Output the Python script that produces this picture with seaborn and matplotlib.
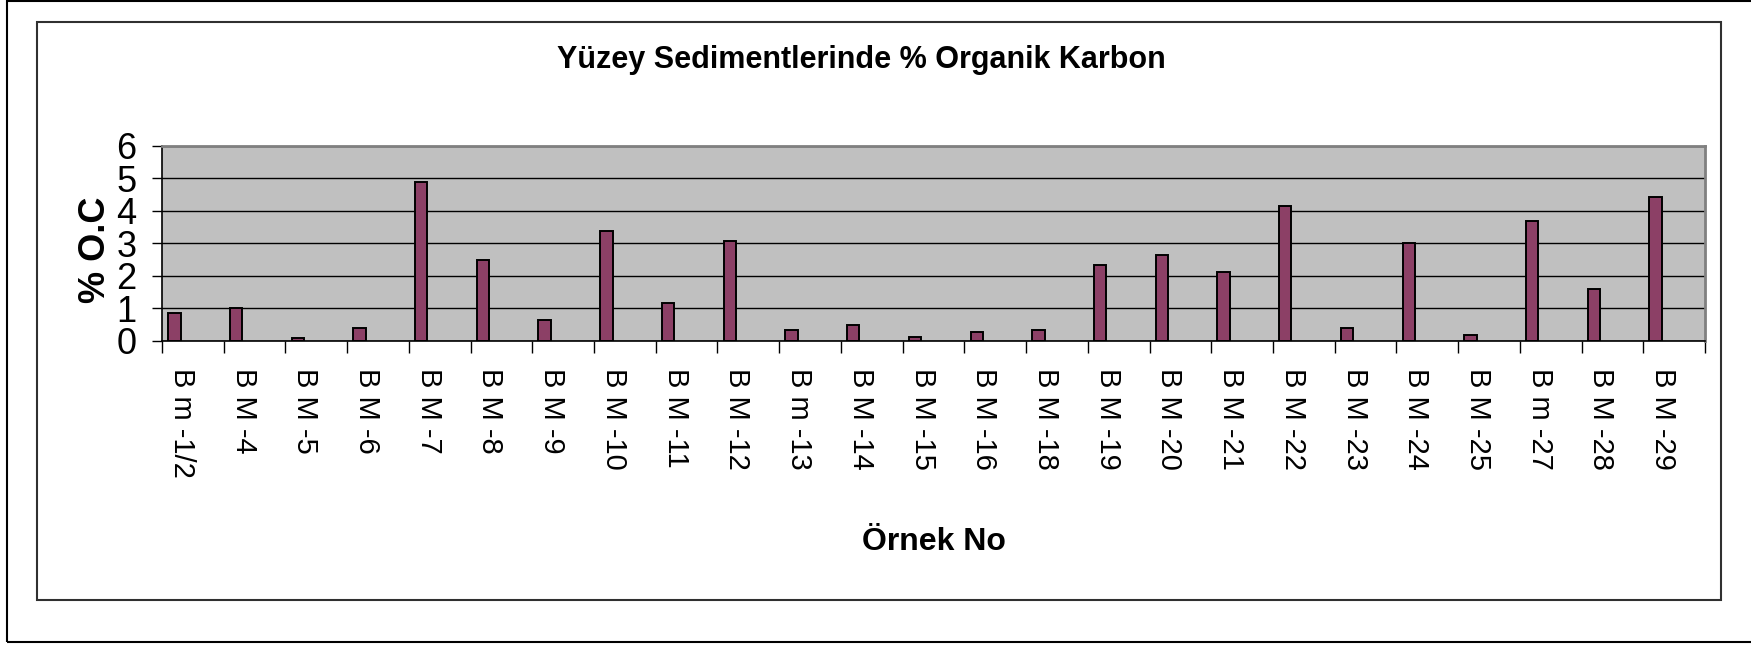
import pandas as pd
import matplotlib
matplotlib.use("Agg")
import matplotlib.pyplot as plt
from matplotlib.patches import Rectangle
from matplotlib.transforms import ScaledTranslation
import seaborn as sns

# Örnek adları ve % organik karbon değerleri
ornekler = ["B m -1/2", "B M -4", "B M -5", "B M -6", "B M -7", "B M -8", "B M -9",
            "B M -10", "B M -11", "B M -12", "B m -13", "B M -14", "B M -15", "B M -16",
            "B M -18", "B M -19", "B M -20", "B M -21", "B M -22", "B M -23", "B M -24",
            "B M -25", "B m -27", "B M -28", "B M -29"]
organik_karbon = [0.84, 0.99, 0.09, 0.39, 4.88, 2.49, 0.62, 3.38, 1.14, 3.08, 0.32, 0.47,
                  0.10, 0.25, 0.32, 2.34, 2.64, 2.12, 4.13, 0.39, 3.01, 0.17, 3.69, 1.58, 4.43]
y_ticks = [0, 1, 2, 3, 4, 5, 6]

# Excel tarzı: 4 seri yeri var, sadece ilki dolu
seriler = ["1", "2", "3", "4"]

data = pd.DataFrame({"ornek": ornekler, "oc": organik_karbon, "seri": "1"})

sns.set_theme(style="white")
plt.rcParams["font.family"] = ["Liberation Sans", "DejaVu Sans"]
for k in ["text.color", "axes.labelcolor", "xtick.color", "ytick.color"]:
    plt.rcParams[k] = "black"

W, H = 1751, 645
fig = plt.figure(figsize=(W / 100, H / 100), dpi=100)
ax = fig.add_axes([162 / W, 1 - 340.5 / H, 1543 / W, (340.5 - 145.7) / H])
ax.set_facecolor("#C0C0C0")

sns.barplot(data=data, x="ornek", y="oc", hue="seri", hue_order=seriler, order=ornekler,
            palette=["#993366"] * 4, width=0.8, dodge=True,
            errorbar=None, edgecolor="black", linewidth=1.4, legend=False, ax=ax)

n = len(ornekler)
ax.set_xlim(-0.5, n - 0.5)
ax.set_ylim(0, 6)
ax.set_yticks(y_ticks)
ax.yaxis.grid(True, color="black", linewidth=1)
ax.xaxis.grid(False)
ax.set_axisbelow(True)

# x ekseni: çentikler kategori sınırlarında, etiketler ortada
ax.set_xticks([i - 0.5 for i in range(n + 1)])
ax.set_xticklabels([])
ax.set_xticks(range(n), ornekler, minor=True)
ax.tick_params(axis="x", which="major", direction="out", length=8.6, width=1,
               color="black", bottom=True)
ax.tick_params(axis="x", which="minor", length=0, pad=20)
ax.tick_params(axis="y", direction="out", length=7.2, width=1, color="black",
               left=True, labelsize=26, pad=11)
for lbl in ax.get_xticklabels(minor=True):
    lbl.set_rotation(-90)
    lbl.set_fontsize(21)
    lbl.set_transform(lbl.get_transform() + ScaledTranslation(-0.11, 0, fig.dpi_scale_trans))

for s in ["left", "bottom"]:
    ax.spines[s].set_color("black")
    ax.spines[s].set_linewidth(1.2)
for s in ["top", "right"]:
    ax.spines[s].set_color("#808080")
    ax.spines[s].set_linewidth(2)

ax.set_xlabel("Örnek No", fontsize=23, fontweight="bold", va="baseline")
ax.xaxis.set_label_coords(0.5, (340.5 - 550) / 194.8)
ax.set_ylabel("% O.C", fontsize=26, fontweight="bold", va="center")
ax.yaxis.set_label_coords((95 - 162) / 1543, (340.5 - 250) / 194.8)

fig.text(861 / W, 1 - 68 / H, "Yüzey Sedimentlerinde % Organik Karbon", ha="center",
         va="baseline", fontsize=22, fontweight="bold")

# çerçeveler
fig.add_artist(Rectangle((7 / W, 3 / H), 1.1, 1 - 4 / H, transform=fig.transFigure,
                         fill=False, edgecolor="black", linewidth=1.5))
fig.add_artist(Rectangle((37 / W, 1 - 600 / H), 1684 / W, 578 / H, transform=fig.transFigure,
                         fill=False, edgecolor="#303030", linewidth=1.5))

fig.savefig("out.png", dpi=100, facecolor="white")
